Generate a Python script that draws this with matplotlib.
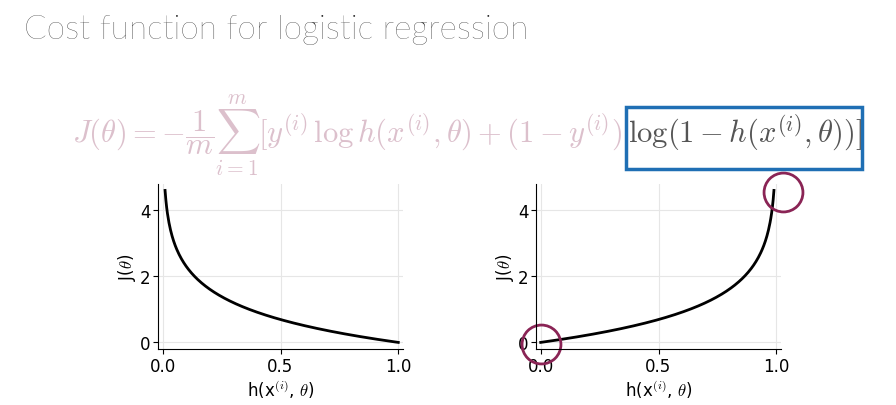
import numpy as np
import matplotlib
matplotlib.use("Agg")
import matplotlib.pyplot as plt

plt.rcParams['mathtext.fontset'] = 'cm'
plt.rcParams['font.family'] = ['DejaVu Sans']
title = "Cost function for logistic regression"
xticks = [0.0, 0.5, 1.0]
yticks = [0, 2, 4]
h_left = np.linspace(0.01, 1.0, 300)
h_right = np.linspace(0.0, 0.99, 300)
cost_y1 = -np.log(h_left)
cost_y0 = -np.log(1 - h_right)

fig = plt.figure(figsize=(8.96, 4.06), dpi=100)
fig.text(0.027, 0.925, title, fontsize=24, family='Lato', weight='light', color='#222222', va='center')

fig.text(622/896, 1-135/406, r"$J(\theta) = -\dfrac{1}{m}\sum_{i=1}^{m}[y^{(i)}\,\log h(x^{(i)},\theta) + (1-y^{(i)})$",
         fontsize=22, color='#dcc0cc', ha='right', va='center')
fig.text(628/896, 1-133/406, r"$\log(1-h(x^{(i)},\theta))]$",
         fontsize=22, color='#555555', ha='left', va='center')
fig.patches.append(plt.Rectangle((626/896, 1-170/406), 236/896, 62/406, transform=fig.transFigure,
                                 fill=False, ec='#1f6fb4', lw=2.5))

def style(ax):
    ax.set_xlim(-0.02, 1.02)
    ax.set_ylim(-0.2, 4.8)
    ax.set_xticks(xticks)
    ax.set_yticks(yticks)
    for s in ['top', 'right']:
        ax.spines[s].set_visible(False)
    ax.grid(True, color='#e6e6e6', lw=0.8)
    ax.tick_params(labelsize=12, pad=2)
    ax.set_xlabel(r"h(x$^{(i)}$, $\theta$)", fontsize=12, labelpad=2)
    ax.set_ylabel(r"J($\theta$)", fontsize=12, labelpad=1)

ax1 = fig.add_axes([158/896, 56/406, 245/896, 165/406])
ax1.plot(h_left, cost_y1, color='black', lw=2)
style(ax1)
ax2 = fig.add_axes([536/896, 56/406, 245/896, 165/406])
ax2.plot(h_right, cost_y0, color='black', lw=2)
style(ax2)
circle_x = [1.03, 0.0]
circle_y = [4.55, -0.06]
ax2.plot(circle_x, circle_y, 'o', ms=28, mfc='none', mec='#8a2455', mew=2, clip_on=False)

fig.savefig("out.png", dpi=100)
